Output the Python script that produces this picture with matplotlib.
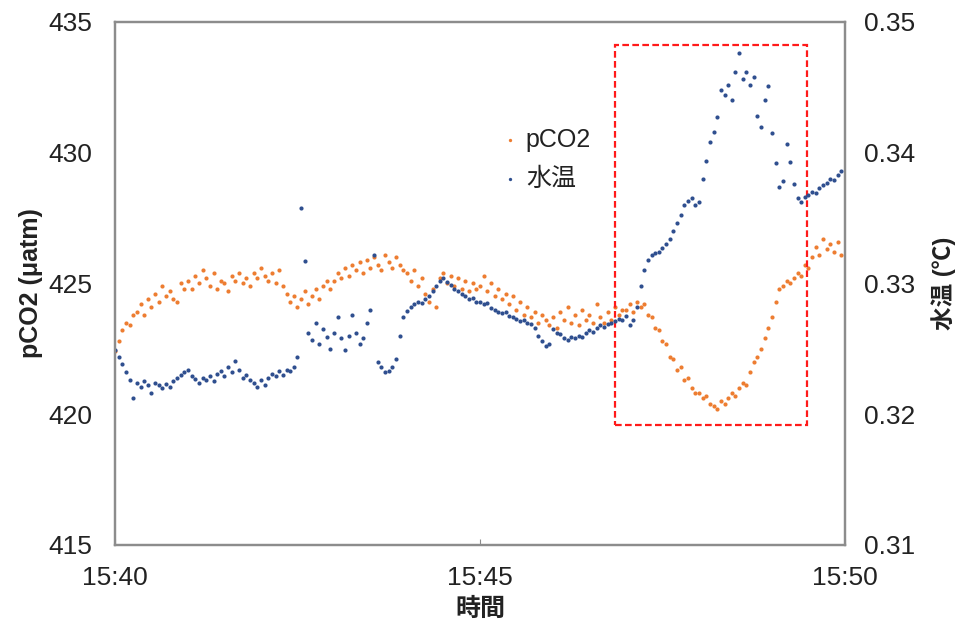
import numpy as np
import matplotlib
matplotlib.use("Agg")
import matplotlib.pyplot as plt
from matplotlib.patches import Rectangle

plt.rcParams['font.family'] = ['Liberation Sans', 'Noto Sans CJK JP', 'DejaVu Sans']

# sample every 3 s from 15:40:00
step = 3
tick_pos = [0, 300, 600]
tick_labels = ['15:40', '15:45', '15:50']

# pCO2 (uatm), one row = one minute
pco2 = [
    422.4, 422.8, 423.2, 423.5, 423.4, 423.8, 423.9, 424.2, 423.8, 424.4, 424.1, 424.6, 424.3, 424.9, 424.5, 424.7, 424.4, 424.3, 425.0, 424.8,
    425.1, 424.8, 425.3, 425.0, 425.5, 425.2, 424.9, 425.4, 424.8, 425.1, 425.0, 424.7, 425.3, 425.1, 425.4, 425.0, 425.2, 424.9, 425.4, 425.2,
    425.6, 425.3, 425.1, 425.4, 425.0, 425.5, 424.9, 424.6, 424.3, 424.5, 424.1, 424.4, 424.7, 424.2, 424.5, 424.8, 424.4, 424.9, 425.1, 424.8,
    425.1, 425.4, 425.2, 425.6, 425.3, 425.7, 425.5, 425.8, 425.4, 425.9, 425.6, 426.0, 425.7, 425.5, 426.1, 425.8, 425.6, 426.0, 425.7, 425.5,
    425.4, 425.1, 425.5, 424.9, 425.2, 424.6, 424.3, 424.8, 424.1, 425.2, 425.4, 425.0, 425.3, 424.9, 425.2, 424.8, 425.1, 424.7, 425.0, 424.8,
    424.9, 425.3, 424.7, 425.0, 424.5, 424.8, 424.4, 424.6, 424.2, 424.5, 424.0, 424.3, 423.8, 424.1, 423.7, 423.9, 423.5, 423.8, 423.6, 423.4,
    423.7, 423.3, 423.9, 423.6, 424.1, 423.5, 423.8, 423.4, 424.0, 423.6, 423.8, 423.5, 424.2, 423.7, 423.5, 423.9, 423.6, 424.1, 423.8, 424.0,
    424.0, 424.2, 423.9, 424.3, 424.1, 424.2, 423.8, 423.7, 423.3, 423.2, 422.8, 422.7, 422.2, 422.1, 421.7, 421.8, 421.3, 421.4, 421.0, 420.8,
    420.8, 420.6, 420.7, 420.4, 420.3, 420.2, 420.5, 420.4, 420.6, 420.8, 420.7, 421.0, 421.2, 421.1, 421.6, 422.0, 422.2, 422.5, 422.9, 423.3,
    423.7, 424.3, 424.8, 424.9, 425.1, 425.0, 425.2, 425.4, 425.3, 425.7, 425.6, 426.0, 426.4, 426.1, 426.7, 426.3, 426.5, 426.2, 426.6, 426.1,
]

# water temperature (deg C)
temp = [
    0.3249, 0.3244, 0.3238, 0.3232, 0.3226, 0.3212, 0.3224, 0.3221, 0.3225, 0.3222, 0.3216, 0.3224, 0.3222, 0.3220, 0.3223, 0.3221, 0.3225, 0.3228, 0.3230, 0.3232,
    0.3234, 0.3229, 0.3227, 0.3224, 0.3228, 0.3226, 0.3229, 0.3225, 0.3231, 0.3233, 0.3229, 0.3236, 0.3232, 0.3241, 0.3234, 0.3228, 0.3230, 0.3226, 0.3224, 0.3221,
    0.3226, 0.3222, 0.3228, 0.3231, 0.3229, 0.3233, 0.3230, 0.3234, 0.3233, 0.3236, 0.3244, 0.3358, 0.3317, 0.3262, 0.3257, 0.3270, 0.3254, 0.3265, 0.3259, 0.3250,
    0.3262, 0.3274, 0.3258, 0.3249, 0.3260, 0.3276, 0.3262, 0.3254, 0.3258, 0.3270, 0.3280, 0.3322, 0.3240, 0.3236, 0.3232, 0.3233, 0.3236, 0.3242, 0.3260, 0.3274,
    0.3279, 0.3282, 0.3284, 0.3286, 0.3285, 0.3288, 0.3290, 0.3294, 0.3298, 0.3302, 0.3304, 0.3301, 0.3299, 0.3296, 0.3294, 0.3292, 0.3290, 0.3288, 0.3289, 0.3286,
    0.3286, 0.3284, 0.3285, 0.3281, 0.3280, 0.3278, 0.3277, 0.3278, 0.3275, 0.3274, 0.3273, 0.3271, 0.3272, 0.3270, 0.3269, 0.3266, 0.3260, 0.3256, 0.3252, 0.3254,
    0.3265, 0.3262, 0.3261, 0.3258, 0.3257, 0.3259, 0.3258, 0.3260, 0.3259, 0.3262, 0.3264, 0.3263, 0.3266, 0.3268, 0.3267, 0.3269, 0.3270, 0.3271, 0.3273, 0.3272,
    0.3275, 0.3268, 0.3272, 0.3282, 0.3298, 0.3310, 0.3318, 0.3322, 0.3323, 0.3324, 0.3327, 0.3330, 0.3334, 0.3340, 0.3346, 0.3352, 0.3360, 0.3363, 0.3365, 0.3360,
    0.3362, 0.3380, 0.3394, 0.3408, 0.3416, 0.3427, 0.3448, 0.3444, 0.3452, 0.3440, 0.3462, 0.3476, 0.3456, 0.3462, 0.3452, 0.3458, 0.3428, 0.3420, 0.3440, 0.3451,
    0.3415, 0.3392, 0.3374, 0.3378, 0.3407, 0.3393, 0.3376, 0.3365, 0.3362, 0.3366, 0.3368, 0.3370, 0.3369, 0.3373, 0.3375, 0.3377, 0.3380, 0.3379, 0.3383, 0.3386,
]

t = np.arange(len(pco2)) * step

# highlighted window (seconds, pCO2 units)
box_t = (411, 569)
box_y = (419.6, 434.1)

orange = '#ED7D31'
blue = '#2F4F8F'
frame = '#8c8c8c'
txt = '#222222'

fig = plt.figure(figsize=(9.58, 6.27), dpi=100)
ax1 = fig.add_axes([0.120, 0.131, 0.762, 0.834])
ax2 = ax1.twinx()

s1 = ax1.scatter(t, pco2, s=9, color=orange, linewidths=0, label='pCO2')
s2 = ax2.scatter(t, temp, s=9, color=blue, linewidths=0, label='水温')

ax1.set_xlim(0, 600)
ax1.set_ylim(415, 435)
ax2.set_ylim(0.31, 0.35)
ax1.set_yticks([415, 420, 425, 430, 435])
ax2.set_yticks([0.31, 0.32, 0.33, 0.34, 0.35])
ax2.set_yticklabels(['0.31', '0.32', '0.33', '0.34', '0.35'])
ax1.set_xticks(tick_pos)
ax1.set_xticklabels(tick_labels)

ax1.tick_params(axis='y', length=0, pad=16, labelsize=19, labelcolor=txt)
ax2.tick_params(axis='y', length=0, pad=14, labelsize=19, labelcolor=txt)
ax1.tick_params(axis='x', direction='in', length=4, color=frame, pad=15, labelsize=19, labelcolor=txt)

for ax in (ax1, ax2):
    for sp in ax.spines.values():
        sp.set_color(frame)
        sp.set_linewidth(1.6)

ax1.set_ylabel('pCO2 (μatm)', fontsize=18, fontweight='bold', labelpad=4, color=txt)
ax2.set_ylabel('水温 (℃)', fontsize=17, fontweight='bold', labelpad=11, color=txt)
ax1.set_xlabel('時間', fontsize=18, fontweight='bold', labelpad=5, color=txt)

ax1.add_patch(Rectangle((box_t[0], box_y[0]), box_t[1] - box_t[0], box_y[1] - box_y[0],
                        fill=False, edgecolor='#FF1A1A', linestyle=(0, (3, 1.5)),
                        linewidth=1.6, zorder=5))

ax2.legend(handles=[s1, s2], loc='upper left', bbox_to_anchor=(0.502, 0.832),
           bbox_transform=fig.transFigure, frameon=False, fontsize=18,
           handlelength=0.5, handletextpad=0.4, labelspacing=0.6, markerscale=0.8,
           labelcolor=txt)

fig.savefig('out.png', dpi=100)
